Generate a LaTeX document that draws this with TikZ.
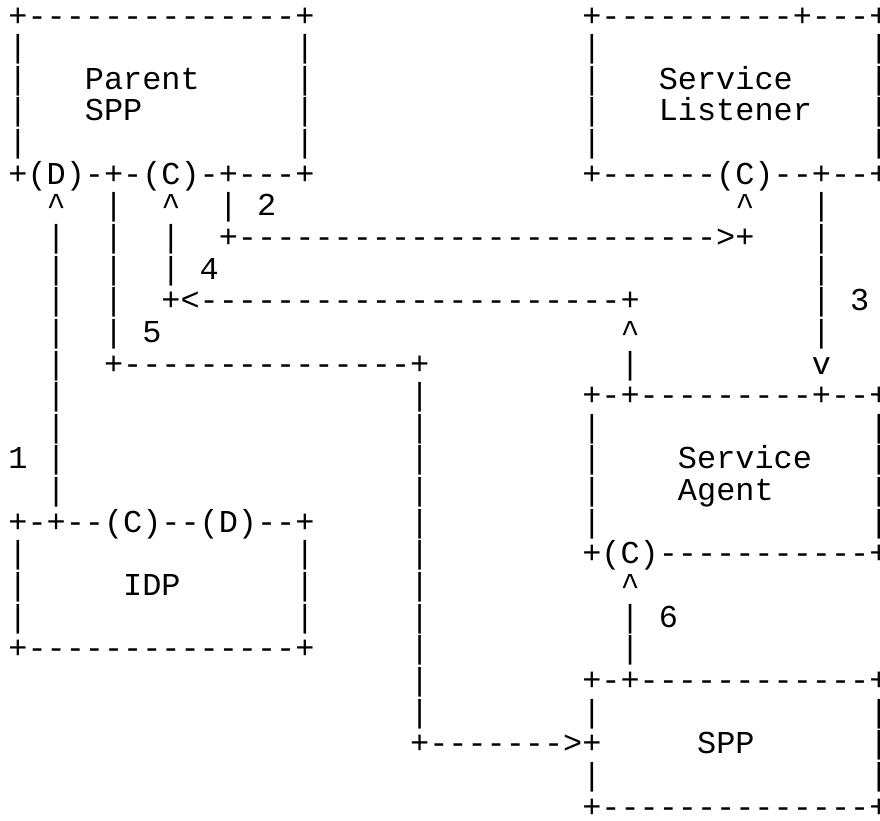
\documentclass[tikz,border=0pt]{standalone}
\usepackage{fontspec}
\setmonofont{Liberation Mono}
\tikzset{
  asc/.style={anchor=base west,inner sep=0pt,outer sep=0pt,font=\ttfamily\fontsize{31.88}{32}\selectfont,text=black}
}
\newcommand\ac[3]{\node[asc] (r#2c#1) at ({8.435pt+19.13pt*#1},{-26pt-31.64pt*#2}) {#3};}
\newcommand\up{\textasciicircum}
\begin{document}
\begin{tikzpicture}[x=1pt,y=1pt]
\useasboundingbox[fill=white] (0,0) rectangle (880,-820);
% row 0
\ac{0}{0}{+--------------+}
\ac{30}{0}{+----------+---+}
% rows 1-4
\ac{0}{1}{|}\ac{15}{1}{|}\ac{30}{1}{|}\ac{45}{1}{|}
\ac{0}{2}{|}\ac{4}{2}{Parent}\ac{15}{2}{|}\ac{30}{2}{|}\ac{34}{2}{Service}\ac{45}{2}{|}
\ac{0}{3}{|}\ac{4}{3}{SPP}\ac{15}{3}{|}\ac{30}{3}{|}\ac{34}{3}{Listener}\ac{45}{3}{|}
\ac{0}{4}{|}\ac{15}{4}{|}\ac{30}{4}{|}\ac{45}{4}{|}
% row 5
\ac{0}{5}{+(D)-+-(C)-+---+}
\ac{30}{5}{+------(C)--+--+}
% row 6
\ac{2}{6}{\up}\ac{5}{6}{|}\ac{8}{6}{\up}\ac{11}{6}{|}\ac{13}{6}{2}\ac{38}{6}{\up}\ac{42}{6}{|}
% row 7
\ac{2}{7}{|}\ac{5}{7}{|}\ac{8}{7}{|}\ac{11}{7}{+------------------------->+}\ac{42}{7}{|}
% row 8
\ac{2}{8}{|}\ac{5}{8}{|}\ac{8}{8}{|}\ac{10}{8}{4}\ac{42}{8}{|}
% row 9
\ac{2}{9}{|}\ac{5}{9}{|}\ac{8}{9}{+<----------------------+}\ac{42}{9}{|}\ac{44}{9}{3}
% row 10
\ac{2}{10}{|}\ac{5}{10}{|}\ac{7}{10}{5}\ac{32}{10}{\up}\ac{42}{10}{|}
% row 11
\ac{2}{11}{|}\ac{5}{11}{+---------------+}\ac{32}{11}{|}\ac{42}{11}{v}
% row 12
\ac{2}{12}{|}\ac{21}{12}{|}\ac{30}{12}{+-+---------+--+}
% row 13
\ac{2}{13}{|}\ac{21}{13}{|}\ac{30}{13}{|}\ac{45}{13}{|}
% row 14
\ac{0}{14}{1}\ac{2}{14}{|}\ac{21}{14}{|}\ac{30}{14}{|}\ac{35}{14}{Service}\ac{45}{14}{|}
% row 15
\ac{2}{15}{|}\ac{21}{15}{|}\ac{30}{15}{|}\ac{35}{15}{Agent}\ac{45}{15}{|}
% row 16
\ac{0}{16}{+-+--(C)--(D)--+}\ac{21}{16}{|}\ac{30}{16}{|}\ac{45}{16}{|}
% row 17
\ac{0}{17}{|}\ac{15}{17}{|}\ac{21}{17}{|}\ac{30}{17}{+(C)-----------+}
% row 18
\ac{0}{18}{|}\ac{6}{18}{IDP}\ac{15}{18}{|}\ac{21}{18}{|}\ac{32}{18}{\up}
% row 19
\ac{0}{19}{|}\ac{15}{19}{|}\ac{21}{19}{|}\ac{32}{19}{|}\ac{34}{19}{6}
% row 20
\ac{0}{20}{+--------------+}\ac{21}{20}{|}\ac{32}{20}{|}
% row 21
\ac{21}{21}{|}\ac{30}{21}{+-+------------+}
% row 22
\ac{21}{22}{|}\ac{30}{22}{|}\ac{45}{22}{|}
% row 23
\ac{21}{23}{+------->+}\ac{36}{23}{SPP}\ac{45}{23}{|}
% row 24
\ac{30}{24}{|}\ac{45}{24}{|}
% row 25
\ac{30}{25}{+--------------+}
\end{tikzpicture}
\end{document}
